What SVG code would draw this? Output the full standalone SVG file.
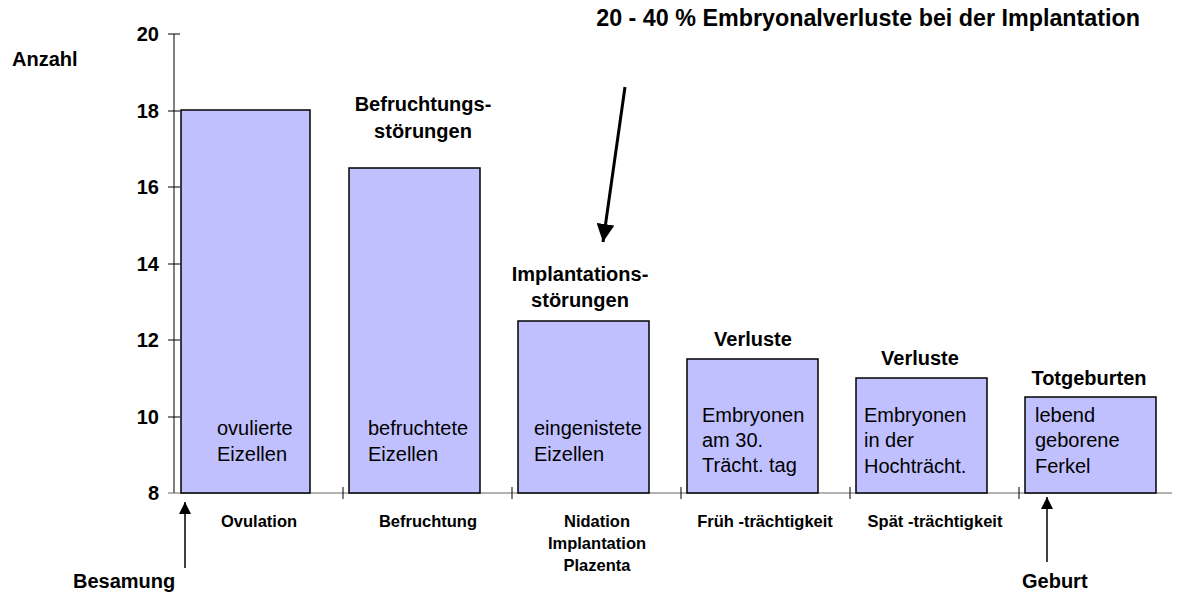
<svg xmlns="http://www.w3.org/2000/svg" width="1188" height="594" viewBox="0 0 1188 594">
<defs>
<style>
text{font-family:"Liberation Sans",Arial,sans-serif;fill:#000}
.b{font-weight:bold;font-size:20px}
.t{font-size:20px}
.s{font-weight:bold;font-size:16.5px}
.bar{fill:#C0C0FF;stroke:#000;stroke-width:1.5}
.ax{stroke:#000;stroke-width:1;fill:none}
.gx{stroke:#666;stroke-width:1.2;fill:none}
</style>
<marker id="ah" viewBox="0 0 10 10" refX="10" refY="5" markerWidth="18" markerHeight="18" orient="auto" markerUnits="userSpaceOnUse"><path d="M0,0 L10,5 L0,10 Z" fill="#000"/></marker>
<marker id="ah2" viewBox="0 0 10 10" refX="10" refY="5" markerWidth="12" markerHeight="12" orient="auto" markerUnits="userSpaceOnUse"><path d="M0,0 L10,5 L0,10 Z" fill="#000"/></marker>
</defs>
<rect width="1188" height="594" fill="#fff"/>
<g id="axes">
<line class="ax" x1="174" y1="34" x2="174" y2="493"/>
<line class="gx" x1="168" y1="493" x2="1172" y2="493"/>
<g class="ax">
<line x1="168" y1="34" x2="180" y2="34"/>
<line x1="168" y1="111" x2="180" y2="111"/>
<line x1="168" y1="187" x2="180" y2="187"/>
<line x1="168" y1="264" x2="180" y2="264"/>
<line x1="168" y1="340" x2="180" y2="340"/>
<line x1="168" y1="417" x2="180" y2="417"/>
<line x1="343" y1="487" x2="343" y2="499"/>
<line x1="512" y1="487" x2="512" y2="499"/>
<line x1="681" y1="487" x2="681" y2="499"/>
<line x1="850" y1="487" x2="850" y2="499"/>
<line x1="1019" y1="487" x2="1019" y2="499"/>
</g>
<g class="b" text-anchor="end">
<text x="159" y="41">20</text>
<text x="159" y="118">18</text>
<text x="159" y="194">16</text>
<text x="159" y="271">14</text>
<text x="159" y="347">12</text>
<text x="159" y="424">10</text>
<text x="159" y="500">8</text>
</g>
<text class="b" x="12" y="66">Anzahl</text>
</g>
<g id="bar1"><rect class="bar" x="181" y="110" width="129" height="383"/>
<text class="t" x="217" y="435">ovulierte</text><text class="t" x="217" y="461">Eizellen</text></g>
<g id="bar2"><rect class="bar" x="349" y="168" width="131" height="325"/>
<text class="t" x="368" y="435">befruchtete</text><text class="t" x="368" y="461">Eizellen</text>
<text class="b" x="423" y="111" text-anchor="middle">Befruchtungs-</text><text class="b" x="423" y="138" text-anchor="middle">störungen</text></g>
<g id="bar3"><rect class="bar" x="518" y="321" width="131" height="172"/>
<text class="t" x="534" y="435">eingenistete</text><text class="t" x="534" y="461">Eizellen</text>
<text class="b" x="580" y="281" text-anchor="middle">Implantations-</text><text class="b" x="580" y="307" text-anchor="middle">störungen</text></g>
<g id="bar4"><rect class="bar" x="687" y="359" width="131" height="134"/>
<text class="t" x="702" y="422">Embryonen</text><text class="t" x="702" y="447">am 30.</text><text class="t" x="702" y="472">Trächt. tag</text>
<text class="b" x="753" y="346" text-anchor="middle">Verluste</text></g>
<g id="bar5"><rect class="bar" x="856" y="378" width="131" height="115"/>
<text class="t" x="864" y="422">Embryonen</text><text class="t" x="864" y="447">in der</text><text class="t" x="864" y="473">Hochträcht.</text>
<text class="b" x="920" y="365" text-anchor="middle">Verluste</text></g>
<g id="bar6"><rect class="bar" x="1025" y="397" width="131" height="96"/>
<text class="t" x="1035" y="422">lebend</text><text class="t" x="1035" y="447">geborene</text><text class="t" x="1035" y="473">Ferkel</text>
<text class="b" x="1089" y="385" text-anchor="middle">Totgeburten</text></g>
<g id="phases" class="s" text-anchor="middle">
<text x="259" y="527">Ovulation</text>
<text x="428" y="527">Befruchtung</text>
<text x="597" y="527">Nidation</text>
<text x="597" y="549">Implantation</text>
<text x="597" y="571">Plazenta</text>
<text x="765" y="527">Früh -trächtigkeit</text>
<text x="935" y="527">Spät -trächtigkeit</text>
</g>
<text id="title" class="b" x="1140" y="26" text-anchor="end" style="font-size:23.3px">20 - 40 % Embryonalverluste bei der Implantation</text>
<text id="besamung" class="b" x="73" y="588">Besamung</text>
<text id="geburt" class="b" x="1022" y="588">Geburt</text>
<g id="connectors">
<line x1="625" y1="87" x2="603" y2="242" stroke="#000" stroke-width="3" marker-end="url(#ah)"/>
<line x1="185" y1="568" x2="185" y2="502" stroke="#000" stroke-width="1.5" marker-end="url(#ah2)"/>
<line x1="1047" y1="562" x2="1047" y2="497" stroke="#000" stroke-width="1.5" marker-end="url(#ah2)"/>
</g>
</svg>
